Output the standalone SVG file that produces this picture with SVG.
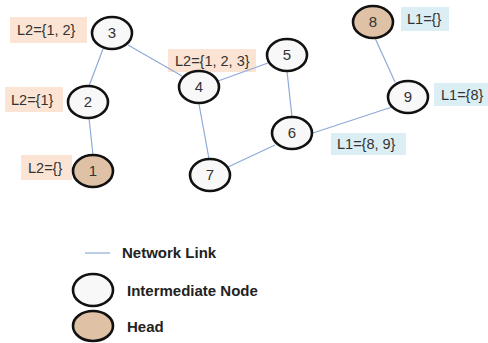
<svg xmlns="http://www.w3.org/2000/svg" width="488" height="343" viewBox="0 0 488 343">
<style>
.edge{stroke:#8eaad8;stroke-width:1.2;fill:none}
.node{fill:#f8f8f8;stroke:#111;stroke-width:2.6}
.head{fill:#dfc2a6;stroke:#111;stroke-width:2.6}
.num{font-family:"Liberation Sans",Arial,sans-serif;font-size:15px;fill:#333;text-anchor:middle}
.lbl{font-family:"Liberation Sans",Arial,sans-serif;font-size:14.5px;fill:#333}
.pe{fill:#fbe4d4}
.bl{fill:#dbeef4}
.leg{font-family:"Liberation Sans",Arial,sans-serif;font-size:15px;font-weight:bold;fill:#222}
</style>
<rect width="488" height="343" fill="#ffffff"/>
<g id="labels">
<rect class="pe" x="10" y="17" width="77" height="26"/><text class="lbl" x="17" y="35">L2={1, 2}</text>
<rect class="pe" x="5" y="87" width="58" height="25"/><text class="lbl" x="11" y="105">L2={1}</text>
<rect class="pe" x="21" y="155" width="51" height="25"/><text class="lbl" x="28" y="173">L2={}</text>
<rect class="pe" x="168" y="49" width="88" height="23"/><text class="lbl" x="175" y="66">L2={1, 2, 3}</text>
<rect class="bl" x="401" y="7" width="48" height="24"/><text class="lbl" x="407" y="24">L1={}</text>
<rect class="bl" x="434" y="83" width="54" height="23"/><text class="lbl" x="441" y="100">L1={8}</text>
<rect class="bl" x="331" y="133" width="75" height="22"/><text class="lbl" x="337" y="149">L1={8, 9}</text>
</g>
<g id="connectors">
<line class="edge" x1="103" y1="49" x2="89" y2="86"/>
<line class="edge" x1="89" y1="118" x2="93" y2="155"/>
<line class="edge" x1="128" y1="45" x2="182" y2="76"/>
<line class="edge" x1="218" y1="81" x2="268" y2="63"/>
<line class="edge" x1="199" y1="104" x2="209" y2="159"/>
<line class="edge" x1="228" y1="167" x2="275" y2="145"/>
<line class="edge" x1="287" y1="71" x2="292" y2="117"/>
<line class="edge" x1="313" y1="133" x2="392" y2="107"/>
<line class="edge" x1="375" y1="38" x2="395" y2="82"/>
</g>
<g id="n3"><ellipse class="node" cx="112" cy="33" rx="20" ry="16"/><text class="num" x="112" y="38">3</text></g>
<g id="n2"><ellipse class="node" cx="88" cy="102" rx="20" ry="16"/><text class="num" x="88" y="107">2</text></g>
<g id="n1"><ellipse class="head" cx="93" cy="171" rx="20" ry="16"/><text class="num" x="93" y="176">1</text></g>
<g id="n4"><ellipse class="node" cx="199" cy="87" rx="20" ry="16"/><text class="num" x="199" y="92">4</text></g>
<g id="n7"><ellipse class="node" cx="210" cy="175" rx="20" ry="16"/><text class="num" x="210" y="180">7</text></g>
<g id="n5"><ellipse class="node" cx="287" cy="55" rx="20" ry="16"/><text class="num" x="287" y="60">5</text></g>
<g id="n6"><ellipse class="node" cx="292" cy="133" rx="20" ry="16"/><text class="num" x="292" y="138">6</text></g>
<g id="n8"><ellipse class="head" cx="373" cy="22" rx="20" ry="16"/><text class="num" x="373" y="27">8</text></g>
<g id="n9"><ellipse class="node" cx="408" cy="97" rx="20" ry="16"/><text class="num" x="408" y="102">9</text></g>
<g id="legend">
<line class="edge" x1="85" y1="253" x2="110" y2="253"/>
<text class="leg" x="122" y="258">Network Link</text>
<ellipse class="node" cx="93" cy="290" rx="20" ry="16"/>
<text class="leg" x="127" y="296">Intermediate Node</text>
<ellipse class="head" cx="93" cy="326" rx="20" ry="15"/>
<text class="leg" x="127" y="332">Head</text>
</g>
</svg>
